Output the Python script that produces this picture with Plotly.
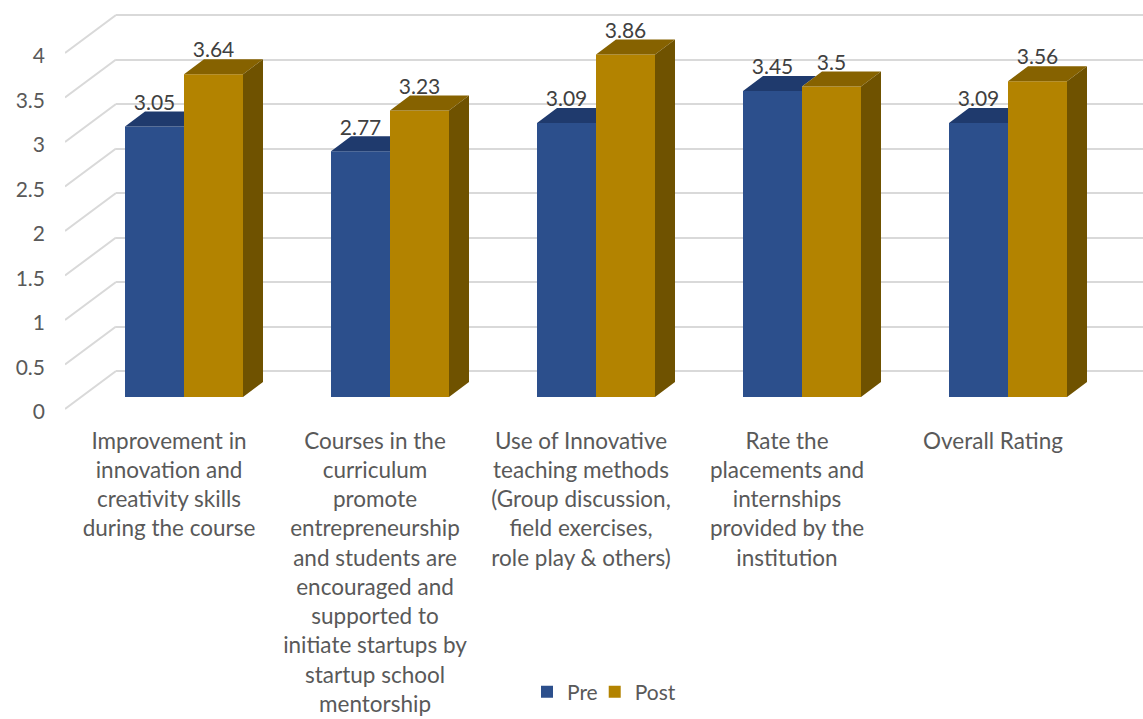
import plotly.graph_objects as go

categories = [
    "Improvement in<br>innovation and<br>creativity skills<br>during the course",
    "Courses in the<br>curriculum<br>promote<br>entrepreneurship<br>and students are<br>encouraged and<br>supported to<br>initiate startups by<br>startup school<br>mentorship",
    "Use of Innovative<br>teaching methods<br>(Group discussion,<br>field exercises,<br>role play &amp; others)",
    "Rate the<br>placements and<br>internships<br>provided by the<br>institution",
    "Overall Rating",
]
pre = [3.05, 2.77, 3.09, 3.45, 3.09]
post = [3.64, 3.23, 3.86, 3.5, 3.56]
y_ticks = [0, 0.5, 1, 1.5, 2, 2.5, 3, 3.5, 4]

W, H = 1143, 719
FONT = "Lato"
PRE_C, PRE_TOP = "#2C4F8C", "#1F3A6D"
POST_C, POST_TOP, POST_SIDE = "#B38300", "#866200", "#6F5200"
GRID = "#D9D9D9"

# scales, in pixels
CAT0, CAT_STEP = 184.0, 206.0      # x of the first group centre, group spacing
UNIT = 89.0                        # pixels per value unit on the walls
BAR_UNIT = 88.7                    # pixels per value unit on the plane of the bars
FLOOR_BAR, FLOOR_BACK, FLOOR_FRONT = 397.0, 371.0, 409.0
PLOT_L, PLOT_B = 116.0, 425.0
WALL_L = 65.0
BAR_W = 59.0 / CAT_STEP
DX, DY = 20.0 / CAT_STEP, 15.0 / BAR_UNIT
LABEL_UP = 22.0 / BAR_UNIT

idx = list(range(len(categories)))
x_range = [(PLOT_L - CAT0) / CAT_STEP, (W - CAT0) / CAT_STEP]


def y_range(floor, unit=UNIT):
    return [(floor - PLOT_B) / unit, floor / unit]


def polys(shapes):
    xs, ys = [], []
    for s in shapes:
        for px, py in s + [s[0]]:
            xs.append(px)
            ys.append(py)
        xs.append(None)
        ys.append(None)
    return xs, ys


def fill_trace(shapes, color):
    xs, ys = polys(shapes)
    return go.Scatter(x=xs, y=ys, xaxis="x", yaxis="y2", mode="lines", fill="toself",
                      fillcolor=color, line=dict(width=0, color=color),
                      showlegend=False, hoverinfo="skip")


fig = go.Figure()

# left wall: diagonal grid lines
wall_x, wall_y = [], []
for t in y_ticks:
    wall_x += [0, 1, None]
    wall_y += [t, t + (FLOOR_FRONT - FLOOR_BACK) / UNIT, None]
fig.add_trace(go.Scatter(x=wall_x, y=wall_y, xaxis="x2", yaxis="y3", mode="lines",
                         line=dict(color=GRID, width=2), showlegend=False, hoverinfo="skip"))

# back wall: the primary y axis only carries the grid
fig.add_trace(go.Scatter(x=[x_range[0]], y=[0], xaxis="x", yaxis="y", mode="none",
                         showlegend=False, hoverinfo="skip"))

# front faces
fig.add_trace(go.Bar(name="Pre", x=idx, y=pre, xaxis="x", yaxis="y2", marker=dict(color=PRE_C, line=dict(width=0)), width=BAR_W, offset=-BAR_W))
fig.add_trace(go.Bar(name="Post", x=idx, y=post, xaxis="x", yaxis="y2", marker=dict(color=POST_C, line=dict(width=0)), width=BAR_W, offset=0))

# top of Pre, cut where the Post bar stands in front of it
pre_top = []
for i, a, b in zip(idx, pre, post):
    shape = [(i - BAR_W, a), (i - BAR_W + DX, a + DY)]
    if b >= a + DY:
        shape += [(i, a + DY)]
    else:
        shape += [(i + (a + DY - b) / DY * DX, a + DY), (i, b)]
    shape += [(i, a)]
    pre_top.append(shape)
fig.add_trace(fill_trace(pre_top, PRE_TOP))

# top and side of Post
post_top = [[(i, b), (i + DX, b + DY), (i + BAR_W + DX, b + DY), (i + BAR_W, b)] for i, b in zip(idx, post)]
post_side = [[(i + BAR_W, 0), (i + BAR_W + DX, DY), (i + BAR_W + DX, b + DY), (i + BAR_W, b)] for i, b in zip(idx, post)]
fig.add_trace(fill_trace(post_top, POST_TOP))
fig.add_trace(fill_trace(post_side, POST_SIDE))

# data labels
for vals, off in ((pre, -BAR_W / 2), (post, BAR_W / 2)):
    fig.add_trace(go.Scatter(x=[i + off for i in idx], y=[v + LABEL_UP for v in vals],
                             xaxis="x", yaxis="y2", mode="text",
                             text=[f"{v:g}" for v in vals], textposition="middle center",
                             textfont=dict(family=FONT, size=21, color="#404040"),
                             showlegend=False, hoverinfo="skip", cliponaxis=False))

domain_y = [1 - PLOT_B / H, 1]
fig.update_layout(
    width=W, height=H, margin=dict(l=0, r=0, t=0, b=0, pad=0, autoexpand=False),
    paper_bgcolor="white", plot_bgcolor="rgba(0,0,0,0)",
    hovermode=False, barmode="overlay",
    font=dict(family=FONT, color="#595959"),
    xaxis=dict(domain=[PLOT_L / W, 1], range=x_range, anchor="y", showgrid=False, zeroline=False,
               showline=False, ticks="", tickmode="array",
               tickvals=[i - 15.0 / CAT_STEP for i in idx],
               ticktext=categories,
               tickfont=dict(family=FONT, size=22.5, color="#595959"), tickangle=0),
    yaxis=dict(domain=domain_y, range=y_range(FLOOR_BACK), anchor="x", showgrid=True, gridcolor=GRID,
               gridwidth=2, tickmode="array", tickvals=y_ticks, showticklabels=False, ticks="",
               zeroline=False, showline=False),
    yaxis2=dict(domain=domain_y, range=y_range(FLOOR_BAR, BAR_UNIT), overlaying="y", anchor="x", visible=False),
    xaxis2=dict(domain=[WALL_L / W, PLOT_L / W], range=[0, 1], anchor="y3", visible=False),
    yaxis3=dict(domain=domain_y, range=y_range(FLOOR_FRONT), anchor="free", position=45.0 / W, side="left",
                showgrid=False, zeroline=False, showline=False, ticks="", tickmode="array",
                tickvals=y_ticks, ticktext=[f"{t:g}" for t in y_ticks], ticklabelshift=3,
                tickfont=dict(family=FONT, size=21, color="#595959")),
    legend=dict(orientation="h", x=608.0 / W, xanchor="center", y=1 - 692.0 / H, yanchor="middle",
                font=dict(family=FONT, size=21, color="#595959"), bgcolor="rgba(0,0,0,0)",
                indentation=-8),
)

fig.write_html("out.html", config={"displayModeBar": False},
               post_script="document.body.style.margin='0';document.body.style.overflow='hidden';")
